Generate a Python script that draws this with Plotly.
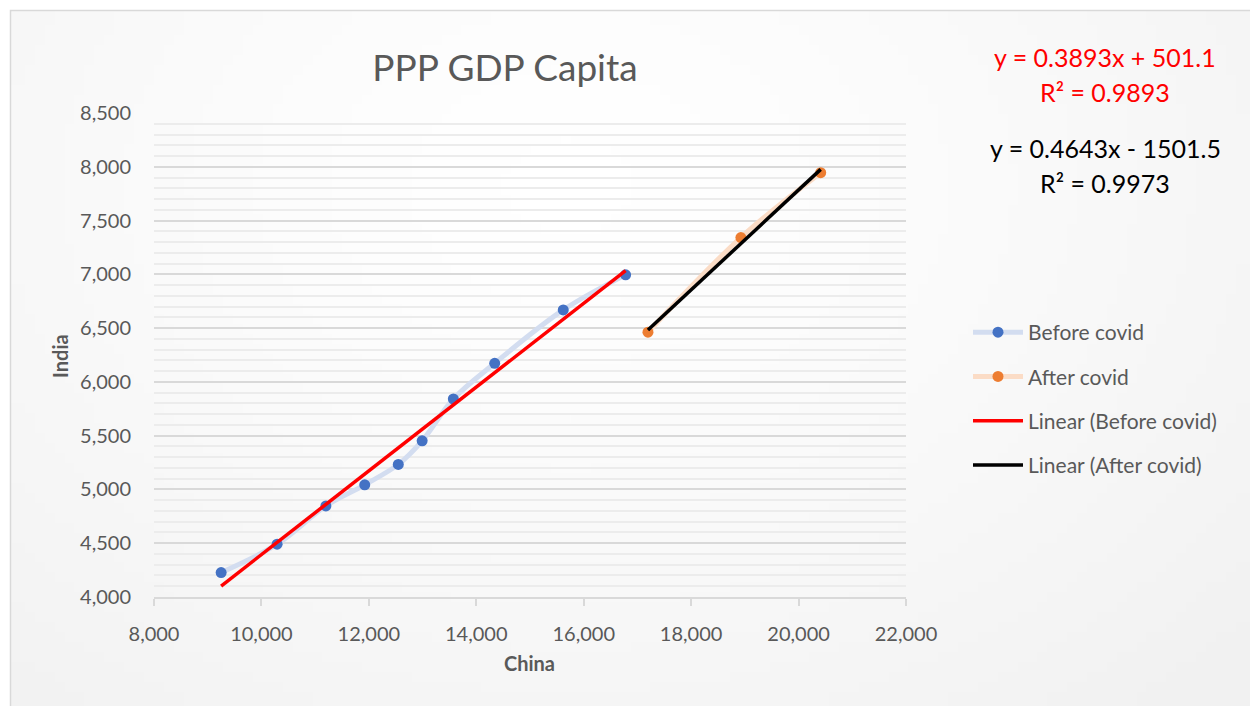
import base64
import struct
import zlib

import plotly.graph_objects as go

# ---- data: GDP per capita, PPP (China on x, India on y) ----
before_china = [9250, 10292, 11200, 11923, 12548, 12992, 13573, 14343, 15619, 16780]
before_india = [4227, 4491, 4847, 5043, 5233, 5452, 5841, 6173, 6669, 6995]
after_china = [17196, 18926, 20412]
after_india = [6462, 7342, 7945]

# linear fits (slope, intercept, R²)
before_fit = (0.3893, 501.1, 0.9893)
after_fit = (0.4643, -1501.5, 0.9973)

x_ticks = [8000, 10000, 12000, 14000, 16000, 18000, 20000, 22000]
y_ticks = [4000, 4500, 5000, 5500, 6000, 6500, 7000, 7500, 8000, 8500]

# ---- layout geometry (pixels) ----
W, H = 1250, 706
PL, PR, PT, PB = 154, 906, 113, 597
FONT = "Lato, 'Open Sans', sans-serif"
GREY = "#595959"


def px_x(p):
    return (p - PL) / (PR - PL)


def px_y(p):
    return (PB - p) / (PB - PT)


def gradient_png(w, h):
    """Soft radial light-grey background, returned as a data URI."""
    rows = []
    for j in range(h):
        row = bytearray([0])
        for i in range(w):
            dx = (i / (w - 1) - 0.45) / 0.75
            dy = (j / (h - 1) - 0.25) / 1.0
            d = min((dx * dx + dy * dy) ** 0.5, 1.0)
            g = int(round(255 - 14 * d ** 1.3))
            row += bytes([g, g, g])
        rows.append(bytes(row))
    raw = b"".join(rows)

    def chunk(tag, data):
        c = struct.pack(">I", len(data)) + tag + data
        return c + struct.pack(">I", zlib.crc32(tag + data) & 0xFFFFFFFF)

    png = b"\x89PNG\r\n\x1a\n"
    png += chunk(b"IHDR", struct.pack(">IIBBBBB", w, h, 8, 2, 0, 0, 0))
    png += chunk(b"IDAT", zlib.compress(raw, 9))
    png += chunk(b"IEND", b"")
    return "data:image/png;base64," + base64.b64encode(png).decode()


def fit_line(xs, fit):
    slope, intercept, _ = fit
    x0, x1 = min(xs), max(xs)
    return [x0, x1], [slope * x0 + intercept, slope * x1 + intercept]


def fit_text(fit):
    slope, intercept, r2 = fit
    sign = "+" if intercept >= 0 else "-"
    return f"y = {slope:.4f}x {sign} {abs(intercept):.1f}", f"R² = {r2:.4f}"


fig = go.Figure()

fig.add_trace(go.Scatter(
    x=before_china, y=before_india, name="Before covid", legendgroup="a",
    mode="lines+markers",
    line=dict(color="#d3ddf0", width=5, shape="spline", smoothing=1),
    marker=dict(color="#4472C4", size=11),
))
fig.add_trace(go.Scatter(
    x=after_china, y=after_india, name="After covid", legendgroup="b",
    mode="lines+markers",
    line=dict(color="#fbdcc6", width=5, shape="spline", smoothing=1),
    marker=dict(color="#ED7D31", size=11),
))

bx, by = fit_line(before_china, before_fit)
fig.add_trace(go.Scatter(
    x=bx, y=by, name="Linear (Before covid)", legendgroup="c",
    mode="lines", line=dict(color="#FF0000", width=3.5),
))
ax_, ay_ = fit_line(after_china, after_fit)
fig.add_trace(go.Scatter(
    x=ax_, y=ay_, name="Linear (After covid)", legendgroup="d",
    mode="lines", line=dict(color="#000000", width=3.5),
))

annotations = []
for (line1, line2), color, y1, y2 in [
    (fit_text(before_fit), "#FF0000", 57, 92),
    (fit_text(after_fit), "#000000", 148, 183),
]:
    for txt, yy in ((line1, y1), (line2, y2)):
        annotations.append(dict(
            text=txt, x=px_x(1105), y=px_y(yy), xref="paper", yref="paper",
            xanchor="center", yanchor="middle", showarrow=False,
            font=dict(family=FONT, size=25, color=color),
        ))

annotations.append(dict(
    text="<b>China</b>", x=px_x(529), y=px_y(663), xref="paper", yref="paper",
    xanchor="center", yanchor="middle", showarrow=False,
    font=dict(family=FONT, size=20, color=GREY),
))
annotations.append(dict(
    text="<b>India</b>", x=px_x(60), y=px_y(356), xref="paper", yref="paper",
    xanchor="center", yanchor="middle", showarrow=False, textangle=-90,
    font=dict(family=FONT, size=20, color=GREY),
))

fig.update_layout(
    width=W, height=H,
    margin=dict(l=PL, r=W - PR, t=PT, b=H - PB),
    paper_bgcolor="white",
    plot_bgcolor="rgba(0,0,0,0)",
    font=dict(family=FONT, color=GREY),
    title=dict(
        text="PPP GDP Capita", x=px_x(505), xref="paper", xanchor="center",
        y=1 - 68 / H, yref="container", yanchor="middle",
        font=dict(family=FONT, size=37, color=GREY),
    ),
    xaxis=dict(
        range=[x_ticks[0], x_ticks[-1]], tickvals=x_ticks, tickformat=",",
        showgrid=False, zeroline=False,
        showline=True, linecolor="#d9d9d9", linewidth=1.5,
        ticks="outside", ticklen=7, tickcolor="#d9d9d9", tickwidth=1.5,
        tickfont=dict(family=FONT, size=20, color=GREY),
        ticklabelstandoff=11,
    ),
    yaxis=dict(
        range=[y_ticks[0], y_ticks[-1]], tickvals=y_ticks, tickformat=",",
        showgrid=True, gridcolor="#d9d9d9", gridwidth=1.5,
        zeroline=False, showline=False, ticks="",
        tickfont=dict(family=FONT, size=20, color=GREY),
        ticklabelstandoff=22,
        minor=dict(dtick=100, showgrid=True, gridcolor="#ececec", gridwidth=1.5),
    ),
    legend=dict(
        x=px_x(968), y=px_y(312), xanchor="left", yanchor="top",
        font=dict(family=FONT, size=21, color=GREY),
        bgcolor="rgba(0,0,0,0)", itemwidth=50,
        traceorder="grouped", tracegroupgap=14,
    ),
    annotations=annotations,
    images=[dict(
        source=gradient_png(125, 70), xref="paper", yref="paper",
        x=px_x(10), y=px_y(10), sizex=px_x(W) - px_x(10), sizey=px_y(10) - px_y(H),
        xanchor="left", yanchor="top", sizing="stretch", layer="below",
    )],
    shapes=[dict(
        type="rect", xref="paper", yref="paper",
        x0=px_x(10.5), y0=px_y(H + 5), x1=px_x(W + 5), y1=px_y(10.5),
        line=dict(color="#d9d9d9", width=1.5), fillcolor="rgba(0,0,0,0)",
        layer="below",
    )],
)

fig.write_html("out.html")
